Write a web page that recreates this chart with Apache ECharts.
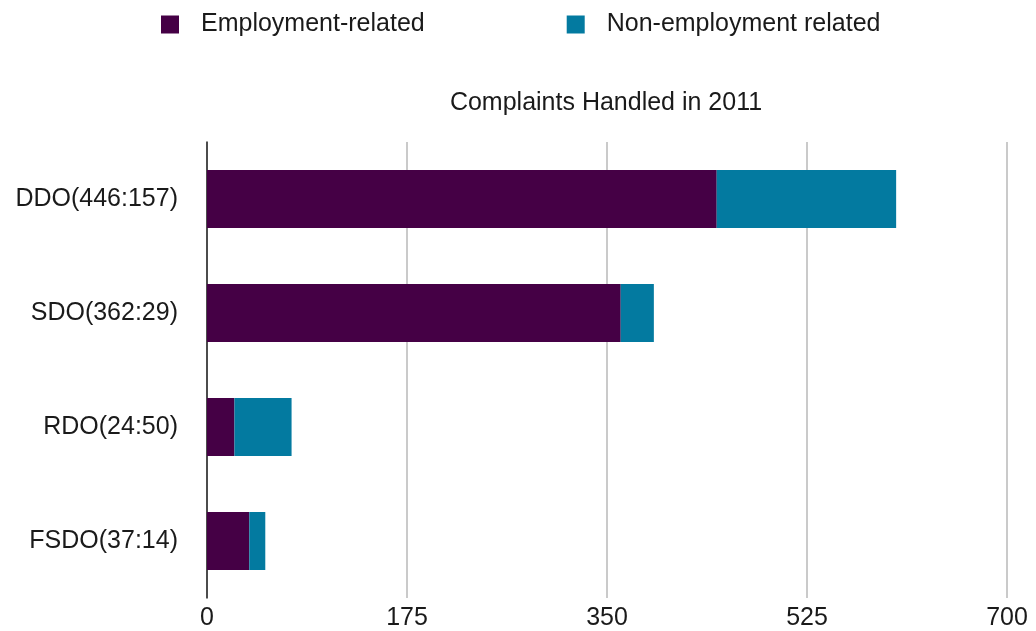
<!DOCTYPE html>
<html>
<head>
<meta charset="utf-8">
<script src="https://cdn.jsdelivr.net/npm/echarts@6/dist/echarts.min.js"></script>
<style>
html,body{margin:0;padding:0;background:#fff;}
#chart{width:1036px;height:631px;}
</style>
</head>
<body>
<div id="chart"></div>
<script>
const categories = ['DDO(446:157)', 'SDO(362:29)', 'RDO(24:50)', 'FSDO(37:14)'];
const employmentRelated = [446, 362, 24, 37];
const nonEmploymentRelated = [157, 29, 50, 14];
const seriesNames = ['Employment-related', 'Non-employment related'];
const titleText = 'Complaints Handled in 2011';

const FONT = '"Liberation Sans", Arial, Helvetica, sans-serif';
const chart = echarts.init(document.getElementById('chart'), null, {renderer: 'canvas'});
chart.setOption({
  animation: false,
  backgroundColor: '#ffffff',
  title: {
    text: titleText,
    left: 601,
    textAlign: 'center',
    top: 86,
    textStyle: {fontFamily: FONT, fontSize: 25, fontWeight: 'normal', color: '#1a1a1a'}
  },
  legend: {
    data: seriesNames,
    top: 7,
    left: 156,
    icon: 'rect',
    itemWidth: 18,
    itemHeight: 18,
    itemGap: 142,
    textStyle: {fontFamily: FONT, fontSize: 25, color: '#1a1a1a', padding: [0, 0, 0, 17]}
  },
  grid: {left: 207, right: 29, top: 142, bottom: 33, containLabel: false},
  xAxis: {
    type: 'value',
    min: 0,
    max: 700,
    interval: 175,
    axisLine: {show: false},
    axisTick: {show: false},
    axisLabel: {fontFamily: FONT, fontSize: 25, color: '#1a1a1a', margin: 8},
    splitLine: {show: true, lineStyle: {color: '#b8b8b8', width: 1.5}}
  },
  yAxis: {
    type: 'category',
    data: categories,
    inverse: true,
    axisLine: {show: true, lineStyle: {color: '#222222', width: 1.5}},
    axisTick: {show: false},
    axisLabel: {fontFamily: FONT, fontSize: 25, color: '#1a1a1a', margin: 29},
    splitLine: {show: false}
  },
  series: [
    {
      name: seriesNames[0],
      type: 'bar',
      stack: 'total',
      data: employmentRelated,
      barWidth: 58,
      itemStyle: {color: '#450045'}
    },
    {
      name: seriesNames[1],
      type: 'bar',
      stack: 'total',
      data: nonEmploymentRelated,
      barWidth: 58,
      itemStyle: {color: '#037aa0'}
    }
  ]
});
</script>
</body>
</html>
